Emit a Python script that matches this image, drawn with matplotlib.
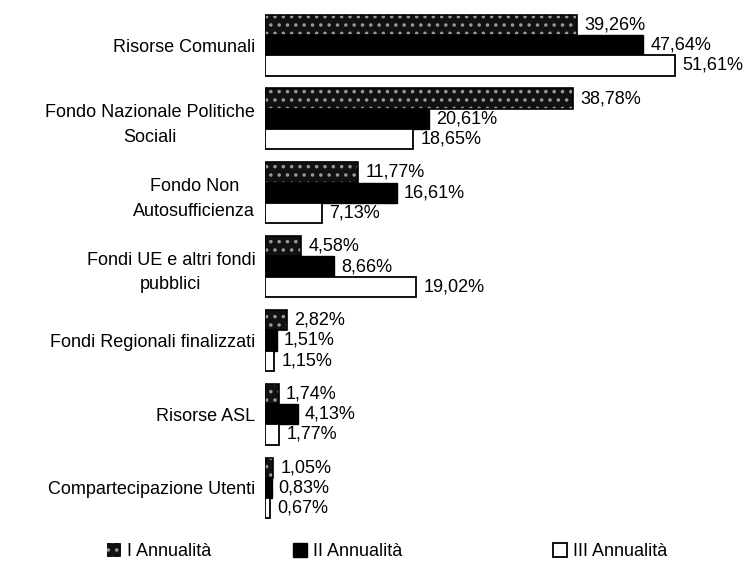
import numpy as np
import matplotlib.pyplot as plt

plt.rcParams['font.family'] = ['Liberation Sans', 'DejaVu Sans']
plt.rcParams['hatch.linewidth'] = 1.3

categories = [
    "Risorse Comunali",
    "Fondo Nazionale Politiche\nSociali",
    "Fondo Non\nAutosufficienza",
    "Fondi UE e altri fondi\npubblici",
    "Fondi Regionali finalizzati",
    "Risorse ASL",
    "Compartecipazione Utenti",
]
series_names = ["I Annualità", "II Annualità", "III Annualità"]
anno_1 = [39.26, 38.78, 11.77, 4.58, 2.82, 1.74, 1.05]
anno_2 = [47.64, 20.61, 16.61, 8.66, 1.51, 4.13, 0.83]
anno_3 = [51.61, 18.65, 7.13, 19.02, 1.15, 1.77, 0.67]

fig = plt.figure(figsize=(7.56, 5.70), dpi=100)
ax = fig.add_axes([0.3505, 0.0856, 0.6305, 0.900])

y = np.arange(len(categories))
h = 0.275
styles = [
    dict(color="#111111", edgecolor="#9a9a9a", hatch="..", linewidth=0),
    dict(color="black", edgecolor="black", linewidth=1),
    dict(color="white", edgecolor="black", linewidth=1.3),
]

handles = []
for i, (vals, st) in enumerate(zip([anno_1, anno_2, anno_3], styles)):
    pos = y + (i - 1) * h
    bars = ax.barh(pos, vals, height=h, label=series_names[i], **st)
    if i == 0:
        # outline so the speckled bars keep a dark edge
        ax.barh(pos, vals, height=h, color="none", edgecolor="black", linewidth=1.2)
    handles.append(bars)
    for p, v in zip(pos, vals):
        ax.text(v + 0.9, p, f"{v:.2f}%".replace(".", ","), va="center",
                ha="left", fontsize=13)

ax.set_xlim(0, 60)
ax.set_ylim(6.45, -0.5)
ax.set_yticks(y)
ax.set_yticklabels(categories, fontsize=13, multialignment="center",
                   linespacing=1.6)
ax.tick_params(axis="y", length=0, pad=7)
ax.set_xticks([])
for s in ax.spines.values():
    s.set_visible(False)

# legend entries sit at uneven spacing along the bottom
legend_x = [0.142, 0.388, 0.732]
for hnd, name, lx in zip(handles, series_names, legend_x):
    fig.legend(handles=[hnd], labels=[name], loc="center left",
               bbox_to_anchor=(lx, 0.032), frameon=False, fontsize=13,
               handlelength=0.75, handleheight=0.75, handletextpad=0.35,
               borderpad=0, borderaxespad=0)

fig.savefig("out.png", dpi=100)
